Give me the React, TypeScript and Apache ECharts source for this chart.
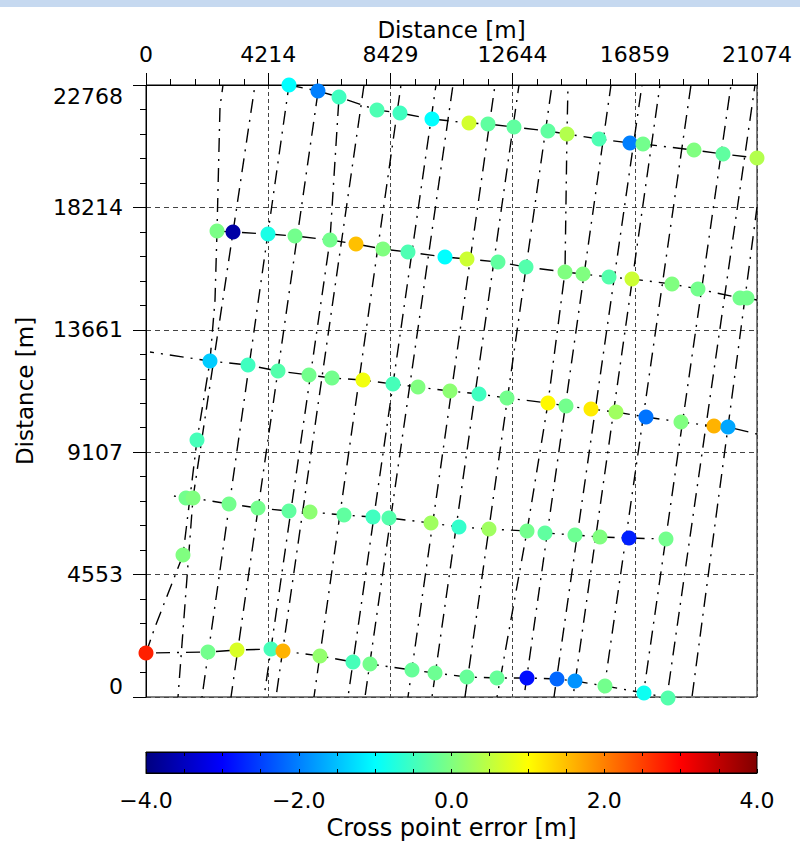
import React, { useEffect, useRef } from 'react';
import * as echarts from 'echarts';

// ---------- axes ----------
const X_MAX = 21074;
const Y_MAX = 22768;
const xTickLabels = ['0', '4214', '8429', '12644', '16859', '21074'];
const yTickLabels = ['0', '4553', '9107', '13661', '18214', '22768'];
const cbTickLabels = ['\u22124.0', '\u22122.0', '0.0', '2.0', '4.0'];
const ERR_MIN = -4;
const ERR_MAX = 4;
const jetColors = ['#000080', '#0000ff', '#0080ff', '#00ffff', '#80ff80', '#ffff00', '#ff8000', '#ff0000', '#800000'];

// ---------- cross points (x [m], y [m], error [m]) ----------
const row1X = [4932, 5932, 6657, 7967, 8760, 9864, 11140, 11796, 12692, 13865, 14520, 15624, 16693, 17142, 18901, 19901, 21074];
const row1Y = [22768, 22543, 22320, 21836, 21725, 21502, 21353, 21316, 21204, 21055, 20944, 20758, 20609, 20572, 20348, 20200, 20051];
const row1E = [-1.0, -2.0, -0.5, -0.4, -0.5, -1.0, 0.65, -0.25, -0.25, -0.25, 0.4, -0.4, -2.0, -0.1, 0.0, -0.25, 0.4];

const row2X = [2449, 3001, 4208, 5139, 6346, 7243, 8174, 9036, 10312, 11071, 12140, 13106, 14451, 15072, 15969, 16762, 18142, 19038, 20487, 20728];
const row2Y = [17335, 17298, 17224, 17149, 17000, 16852, 16666, 16554, 16368, 16294, 16182, 15996, 15810, 15736, 15624, 15550, 15364, 15178, 14843, 14843];
const row2E = [-0.05, -3.7, -0.8, -0.1, -0.1, 1.5, 0.0, -0.4, -1.0, 0.6, -0.25, -0.35, 0.0, 0.0, -0.35, 0.6, 0.0, -0.1, -0.1, -0.1];

const row3X = [2207, 3518, 4553, 5622, 6415, 7484, 8519, 9381, 10485, 11485, 12451, 13865, 14486, 15348, 16210, 17245, 18452, 19590, 20073];
const row3Y = [12499, 12350, 12127, 11978, 11867, 11792, 11644, 11532, 11383, 11272, 11123, 10937, 10825, 10714, 10602, 10416, 10230, 10081, 10044];
const row3E = [-1.4, -0.5, -0.35, -0.1, -0.1, 0.9, -0.45, 0.0, 0.1, -0.5, -0.1, 1.05, -0.1, 1.15, 0.25, -2.1, 0.0, 1.6, -1.7];

const row4X = [1380, 1621, 2863, 3863, 4932, 5656, 6829, 7829, 8381, 9830, 10795, 11830, 13141, 13762, 14796, 15658, 16659, 17935];
const row4Y = [7403, 7403, 7180, 7031, 6919, 6882, 6770, 6696, 6659, 6473, 6324, 6250, 6175, 6101, 6026, 5952, 5915, 5878];
const row4E = [-0.1, 0.0, -0.1, -0.1, -0.25, 0.1, -0.25, -0.5, -0.35, 0.25, -0.6, 0.25, -0.1, -0.25, -0.15, 0.0, -2.75, -0.1];

const row5X = [0, 2138, 3139, 4311, 4725, 6001, 7139, 7726, 9174, 9968, 11071, 12106, 13141, 14175, 14796, 15831, 17176, 18004];
const row5Y = [1637, 1674, 1748, 1786, 1711, 1525, 1302, 1228, 1004, 893, 744, 707, 707, 670, 595, 409, 149, -37];
const row5E = [2.75, -0.1, 0.7, -0.45, 1.6, 0.15, -0.45, -0.1, -0.2, -0.15, -0.2, -0.2, -2.9, -2.2, -1.85, -0.1, -0.9, -0.35];

const extraX = [1759, 1276];
const extraY = [9560, 5282];
const extraE = [-0.45, 0.0];

// tie line ends beyond the first / last cross point (null = none)
const tieStarts: (number[] | null)[] = [null, null, [138, 12834], [759, 7514], null];
const tieEnds: (number[] | null)[] = [null, [21074, 14768], [21074, 9784], null, null];

// ---------- flight lines (polylines, [x, y] in m) ----------
const flightLines: number[][][] = [
  [[0, 1637], [310, 2604], [1276, 5282], [1759, 9560], [2207, 12499], [2380, 14768], [2449, 17335], [2552, 21948], [2656, 22768]],
  [[1104, 0], [1621, 7403], [3001, 17298], [3759, 22768]],
  [[1931, 0], [4932, 22768]],
  [[2932, 0], [5967, 22768]],
  [[4070, 0], [6346, 17000], [6657, 22320], [6691, 22768]],
  [[4484, 0], [7519, 22768]],
  [[5794, 0], [8795, 22768]],
  [[6967, 0], [10002, 22768]],
  [[7553, 0], [10588, 22768]],
  [[9036, 0], [12037, 22768]],
  [[9864, 0], [12865, 22768]],
  [[11002, 0], [14003, 22768]],
  [[12106, 0], [13141, 6175], [13865, 10937], [14451, 15810], [14520, 20944], [14555, 22768]],
  [[13037, 0], [16038, 22768]],
  [[14072, 0], [17107, 22768]],
  [[14727, 0], [17728, 22768]],
  [[15762, 0], [18797, 22768]],
  [[17142, 0], [20177, 22768]],
  [[17969, 0], [21005, 22768]],
  [[18832, 0], [20073, 10044], [21074, 18228]],
];

const FONT = '"DejaVu Sans", "Liberation Sans", sans-serif';

export default function App() {
  const ref = useRef<HTMLDivElement>(null);

  useEffect(() => {
    if (!ref.current) return;
    const chart = echarts.init(ref.current, undefined, { renderer: 'svg' });

    const rows = [
      [row1X, row1Y, row1E],
      [row2X, row2Y, row2E],
      [row3X, row3Y, row3E],
      [row4X, row4Y, row4E],
      [row5X, row5Y, row5E],
    ];

    const dash = [14, 7, 2, 7];
    const series: any[] = [];

    flightLines.forEach((pts, i) => {
      series.push({
        type: 'line',
        xAxisIndex: 0,
        yAxisIndex: 0,
        data: pts,
        symbol: 'none',
        silent: true,
        z: 2,
        lineStyle: { color: '#000', width: 1.4, type: dash, dashOffset: (i * 11) % 30 },
      });
    });

    rows.forEach(([xs, ys], r) => {
      const pts: number[][] = [];
      const s = tieStarts[r];
      if (s) pts.push(s);
      xs.forEach((x, k) => pts.push([x, ys[k]]));
      const e = tieEnds[r];
      if (e) pts.push(e);
      series.push({
        type: 'line',
        xAxisIndex: 0,
        yAxisIndex: 0,
        data: pts,
        symbol: 'none',
        silent: true,
        z: 2,
        lineStyle: { color: '#000', width: 1.4, type: dash, dashOffset: r * 5 },
      });
    });

    const dots: number[][] = [];
    rows.forEach(([xs, ys, es]) => xs.forEach((x, k) => dots.push([x, ys[k], es[k]])));
    extraX.forEach((x, k) => dots.push([x, extraY[k], extraE[k]]));
    const scatterIndex = series.length;
    series.push({
      type: 'scatter',
      xAxisIndex: 0,
      yAxisIndex: 0,
      data: dots,
      symbol: 'circle',
      symbolSize: 15,
      clip: false,
      z: 5,
      silent: true,
      itemStyle: { opacity: 1 },
    });

    const axisText = { fontFamily: FONT, fontSize: 22, color: '#000' };
    const xInt = X_MAX / 5;
    const yInt = Y_MAX / 5;

    chart.setOption({
      animation: false,
      backgroundColor: '#fff',
      grid: [
        { left: 146, top: 85, width: 611, height: 612, show: true, borderColor: '#000', borderWidth: 1, backgroundColor: 'transparent' },
        {
          left: 146, top: 752, width: 611, height: 21, show: true, borderColor: '#000', borderWidth: 1,
          backgroundColor: new echarts.graphic.LinearGradient(0, 0, 1, 0, jetColors.map((c, i) => ({ offset: i / (jetColors.length - 1), color: c }))),
        },
      ],
      xAxis: [
        {
          gridIndex: 0, type: 'value', position: 'top', min: 0, max: X_MAX, interval: xInt,
          axisLine: { show: true, onZero: false, lineStyle: { color: '#000', width: 1 } },
          axisTick: { show: true, inside: false, length: 12, lineStyle: { color: '#000' } },
          minorTick: { show: true, splitNumber: 5, length: 6, lineStyle: { color: '#000' } },
          splitLine: { show: true, lineStyle: { color: '#444', width: 1, type: [4, 3] } },
          axisLabel: { ...axisText, lineHeight: 22, margin: 20, formatter: (v: number) => xTickLabels[Math.round(v / xInt)] ?? '' },
        },
        {
          gridIndex: 1, type: 'value', position: 'bottom', min: ERR_MIN, max: ERR_MAX, interval: 0.5,
          axisLine: { show: true, lineStyle: { color: '#000' } },
          axisTick: { show: true, inside: true, length: 4, lineStyle: { color: '#000' } },
          splitLine: { show: false },
          axisLabel: {
            ...axisText, margin: 16,
            formatter: (v: number) => {
              const r = Math.round(v);
              if (Math.abs(r - v) > 1e-6 || r % 2 !== 0) return '';
              return cbTickLabels[(r - ERR_MIN) / 2] ?? '';
            },
          },
        },
        {
          gridIndex: 1, type: 'value', position: 'top', min: ERR_MIN, max: ERR_MAX, interval: 0.5,
          axisLine: { show: true, lineStyle: { color: '#000' } },
          axisTick: { show: true, inside: true, length: 4, lineStyle: { color: '#000' } },
          splitLine: { show: false },
          axisLabel: { show: false },
        },
      ],
      yAxis: [
        {
          gridIndex: 0, type: 'value', position: 'left', min: 0, max: Y_MAX, interval: yInt,
          axisLine: { show: true, onZero: false, lineStyle: { color: '#000', width: 1 } },
          axisTick: { show: true, inside: false, length: 13, lineStyle: { color: '#000' } },
          minorTick: { show: true, splitNumber: 5, length: 6, lineStyle: { color: '#000' } },
          splitLine: { show: true, lineStyle: { color: '#444', width: 1, type: [5, 4] } },
          axisLabel: {
            ...axisText, margin: 23,
            verticalAlignMinLabel: 'bottom', verticalAlignMaxLabel: 'top',
            formatter: (v: number) => yTickLabels[Math.round(v / yInt)] ?? '',
          },
        },
        { gridIndex: 1, type: 'value', min: 0, max: 1, show: false },
      ],
      visualMap: {
        type: 'continuous', show: false, min: ERR_MIN, max: ERR_MAX, dimension: 2,
        seriesIndex: scatterIndex, inRange: { color: jetColors },
      },
      graphic: [
        { type: 'rect', shape: { x: 0, y: 0, width: 800, height: 7 }, style: { fill: '#c6d9f0' }, silent: true },
        {
          type: 'text', x: 451.5, y: 30, silent: true,
          style: { text: 'Distance [m]', fontFamily: FONT, fontSize: 23, lineHeight: 22, fill: '#000', align: 'center', verticalAlign: 'middle' },
        },
        {
          type: 'text', x: 25, y: 391, rotation: Math.PI / 2, silent: true,
          style: { text: 'Distance [m]', fontFamily: FONT, fontSize: 23, fill: '#000', align: 'center', verticalAlign: 'middle' },
        },
        {
          type: 'text', x: 451.5, y: 828, silent: true,
          style: { text: 'Cross point error [m]', fontFamily: FONT, fontSize: 24, fill: '#000', align: 'center', verticalAlign: 'middle' },
        },
      ],
      series,
    });

    return () => chart.dispose();
  }, []);

  return <div ref={ref} style={{ position: 'absolute', left: 0, top: 0, width: 800, height: 855, background: '#fff' }} />;
}
